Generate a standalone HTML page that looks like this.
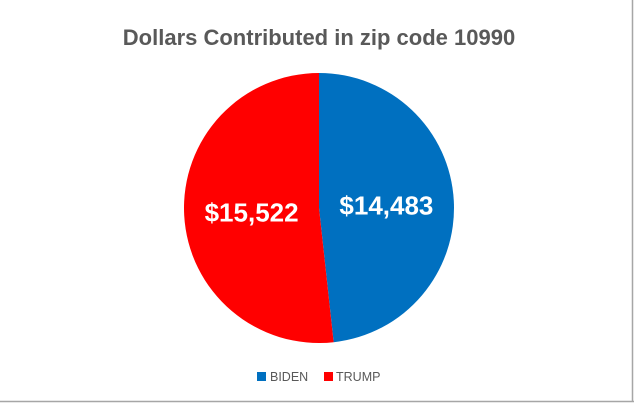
<!DOCTYPE html>
<html><head><meta charset="utf-8"><style>
body{margin:0;background:#fff;}
svg{display:block;font-family:"Liberation Sans",sans-serif;}
</style></head><body>
<svg width="634" height="403" viewBox="0 0 634 403">
<rect x="0" y="0" width="634" height="403" fill="#fff"/>
<line x1="632.5" y1="0" x2="632.5" y2="402" stroke="#a6a6a6" stroke-width="1.5"/>
<line x1="0" y1="401.5" x2="634" y2="401.5" stroke="#a6a6a6" stroke-width="1.5"/>
<text x="319" y="45" text-anchor="middle" font-size="22" font-weight="bold" fill="#595959">Dollars Contributed in zip code 10990</text>
<g id="slices"></g>
<g>
<rect x="257" y="372" width="9" height="9" fill="#0070c0"/>
<text x="270" y="381" font-size="12.5" fill="#595959">BIDEN</text>
<rect x="324" y="372" width="9" height="9" fill="#ff0000"/>
<text x="336" y="381" font-size="12.5" fill="#595959">TRUMP</text>
</g>
</svg>
<script>
const categories = ["BIDEN", "TRUMP"];
const values = [14483, 15522];
const valueLabels = ["$14,483", "$15,522"];
const colors = ["#0070c0", "#ff0000"];
const cx = 319, cy = 208, r = 135;
const g = document.getElementById('slices');
const total = values.reduce((a,b)=>a+b,0);
let a0 = 0;
const ns = "http://www.w3.org/2000/svg";
values.forEach((v,i)=>{
  const a1 = a0 + v/total*2*Math.PI;
  const x0 = cx + r*Math.sin(a0), y0 = cy - r*Math.cos(a0);
  const x1 = cx + r*Math.sin(a1), y1 = cy - r*Math.cos(a1);
  const large = (a1-a0) > Math.PI ? 1 : 0;
  const p = document.createElementNS(ns,'path');
  p.setAttribute('d', `M${cx},${cy} L${x0},${y0} A${r},${r} 0 ${large} 1 ${x1},${y1} Z`);
  p.setAttribute('fill', colors[i]);
  
  
  g.appendChild(p);
  const am = (a0+a1)/2;
  const t = document.createElementNS(ns,'text');
  t.setAttribute('x', cx + r*0.5*Math.sin(am));
  t.setAttribute('y', cy - r*0.5*Math.cos(am) + 10);
  t.setAttribute('text-anchor','middle');
  t.setAttribute('font-size','26');
  t.setAttribute('font-weight','bold');
  t.setAttribute('fill','#fff');
  t.textContent = valueLabels[i];
  
  
  g.appendChild(t);
  a0 = a1;
});
</script>
</body></html>
